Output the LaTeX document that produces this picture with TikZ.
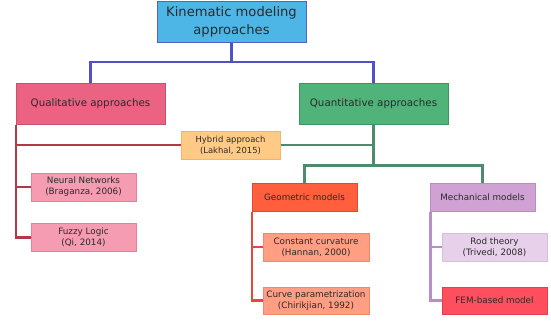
\documentclass[tikz,border=0pt]{standalone}
\usepackage{fontspec}
\setmainfont{DejaVu Sans}
\definecolor{txt}{HTML}{2A2A2A}
\definecolor{rootfill}{HTML}{4DB6E6}
\definecolor{rootdraw}{HTML}{5560CC}
\definecolor{blueline}{HTML}{5050C8}
\definecolor{qualfill}{HTML}{EC6282}
\definecolor{qualdraw}{HTML}{C85070}
\definecolor{redline}{HTML}{B03A48}
\definecolor{quantfill}{HTML}{50B47A}
\definecolor{quantdraw}{HTML}{3C9462}
\definecolor{greenline}{HTML}{4E8A6C}
\definecolor{hybfill}{HTML}{FFCA86}
\definecolor{hybdraw}{HTML}{F2B46E}
\definecolor{leaffill}{HTML}{F59CB2}
\definecolor{leafdraw}{HTML}{E0829A}
\definecolor{geofill}{HTML}{FF5F3C}
\definecolor{geodraw}{HTML}{E0492C}
\definecolor{geoline}{HTML}{E8483A}
\definecolor{gleaffill}{HTML}{FF9E82}
\definecolor{gleafdraw}{HTML}{F2886A}
\definecolor{mechfill}{HTML}{D0A2D4}
\definecolor{mechdraw}{HTML}{B98CC2}
\definecolor{purpline}{HTML}{BC8CCA}
\definecolor{rodfill}{HTML}{E6D0EA}
\definecolor{roddraw}{HTML}{D6BEDC}
\definecolor{femfill}{HTML}{FF4F5E}
\definecolor{femdraw}{HTML}{E0404E}
\tikzset{
  box/.style={rectangle, inner sep=0pt, align=center, text=txt, line width=1pt},
  big/.style={box, minimum width=149pt, minimum height=41pt, font=\fontsize{10.3}{14}\selectfont},
  small/.style={box, minimum width=105pt, minimum height=28pt, font=\fontsize{8.8}{11}\selectfont},
  conn/.style={line width=2.3pt}
}
\begin{document}
\begin{tikzpicture}[x=1pt,y=-1pt]
\useasboundingbox (0,0) rectangle (551,322);
% connectors first (behind boxes)
\coordinate (rootS) at (231.5,42);
\node[big, fill=rootfill, draw=rootdraw, font=\fontsize{13.1}{18}\selectfont] (root) at (231.5,21.5) {Kinematic modeling\\approaches};
\node[big, fill=qualfill, draw=qualdraw] (qual) at (90.5,103.5) {Qualitative approaches};
\node[big, fill=quantfill, draw=quantdraw] (quant) at (373.5,103.5) {Quantitative approaches};
\node[small, minimum width=99pt, fill=hybfill, draw=hybdraw, font=\fontsize{8.4}{11}\selectfont] (hyb) at (230.5,145) {Hybrid approach\\(Lakhal, 2015)};
\node[small, fill=leaffill, draw=leafdraw] (nn) at (83.5,187) {Neural Networks\\(Braganza, 2006)};
\node[small, fill=leaffill, draw=leafdraw] (fz) at (83.5,237.5) {Fuzzy Logic\\(Qi, 2014)};
\node[small, fill=geofill, draw=geodraw] (geo) at (304.5,197) {Geometric models};
\node[small, minimum width=106pt, fill=gleaffill, draw=gleafdraw] (cc) at (316,247) {Constant curvature\\(Hannan, 2000)};
\node[small, minimum width=106pt, minimum height=27pt, fill=gleaffill, draw=gleafdraw] (cp) at (316,300.5) {Curve parametrization\\(Chirikjian, 1992)};
\node[small, fill=mechfill, draw=mechdraw] (mech) at (482.5,197) {Mechanical models};
\node[small, fill=rodfill, draw=roddraw] (rod) at (494.5,247) {Rod theory\\(Trivedi, 2008)};
\node[small, minimum height=27pt, fill=femfill, draw=femdraw] (fem) at (494.5,300.5) {FEM-based model};
% blue
\draw[conn, blueline] (root.south) -- ++(0,19.5) coordinate (bj) -| (qual.north);
\draw[conn, blueline] (bj) -| (quant.north);
% red
\draw[conn, redline] ([xshift=0.5pt]qual.south west) -- ([xshift=0.5pt]qual.south west |- fz.west) -- (fz.west);
\draw[conn, redline] ([xshift=0.5pt]qual.south west |- nn.west) -- (nn.west);
\draw[conn, redline] ([xshift=0.5pt]qual.south west |- hyb.west) -- (hyb.west);
% green
\draw[conn, greenline] (hyb.east) -- (quant.south |- hyb.east);
\draw[conn, greenline] (quant.south) -- ++(0,41) coordinate (gj) -| (geo.north);
\draw[conn, greenline] (gj) -| (mech.north);
% geometric
\draw[conn, geoline] ([xshift=0.5pt]geo.south west) -- ([xshift=0.5pt]geo.south west |- cp.west) -- (cp.west);
\draw[conn, geoline] ([xshift=0.5pt]geo.south west |- cc.west) -- (cc.west);
% mechanical
\draw[conn, purpline] ([xshift=1pt]mech.south west) -- ([xshift=1pt]mech.south west |- fem.west) -- (fem.west);
\draw[conn, purpline] ([xshift=1pt]mech.south west |- rod.west) -- (rod.west);
\end{tikzpicture}
\end{document}
